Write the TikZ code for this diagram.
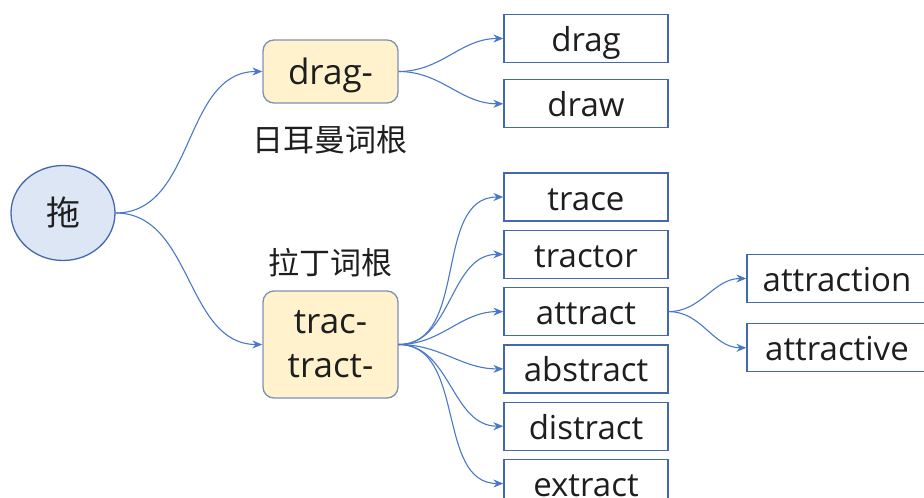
\documentclass[tikz,border=0pt]{standalone}
\usepackage{fontspec}
\setmainfont{Open Sans}
\newfontfamily\cjk{Noto Sans CJK SC}
\usetikzlibrary{shapes.geometric, arrows.meta, positioning}
\definecolor{tinta}{HTML}{1E1E1E}
\definecolor{borde}{HTML}{4468AE}
\definecolor{flecha}{HTML}{4A78C8}
\definecolor{celeste}{HTML}{DCE6F4}
\definecolor{crema}{HTML}{FFF2CC}
\definecolor{bordecrema}{HTML}{7D90B4}
\tikzset{
  raiz/.style={ellipse, draw=borde, fill=celeste, line width=1.3pt, minimum width=104pt,
               minimum height=95pt, inner sep=0pt, text=tinta, font=\cjk\fontsize{34}{38}\selectfont},
  prefijo/.style={rectangle, rounded corners=11pt, draw=bordecrema, fill=crema, line width=1.3pt,
                  minimum width=135pt, text=tinta, font=\fontsize{35}{44}\selectfont},
  palabra/.style={rectangle, draw=borde, fill=white, line width=1.3pt, minimum width=164pt,
                  minimum height=48pt, inner sep=0pt, text height=28pt, text depth=2pt,
                  text=tinta, font=\fontsize{33}{40}\selectfont},
  etiqueta/.style={text=tinta, inner sep=0pt, font=\cjk\fontsize{31}{36}\selectfont},
  arrow/.style={line width=1.1pt, color=flecha, -{Stealth[length=10pt,width=8pt]}}
}

\begin{document}
\begin{tikzpicture}[x=1pt, y=-1pt, node distance=8pt]
  \useasboundingbox (0,0) rectangle (924,498);
  % raiz y prefijos
  \node (tuo) [raiz] at (63,213) {拖};
  \node (drag-) [prefijo, minimum height=63pt, text height=29pt, text depth=3pt] at (330.5,71.5) {drag-};
  \node (ger) [etiqueta] at (330,140) {日耳曼词根};
  \node (trac) [prefijo, align=center, minimum height=107pt] at (330.5,344.5) {trac-\\tract-};
  \node (lat) [etiqueta] at (330,263) {拉丁词根};
  % palabras
  \node (drag) [palabra] at (586,38.5) {drag};
  \node (draw) [palabra, below=16pt of drag] {draw};
  \node (trace) [palabra] at (586,197) {trace};
  \node (tractor) [palabra, below=of trace] {tractor};
  \node (attract) [palabra, below=of tractor] {attract};
  \node (abstract) [palabra, below=of attract] {abstract};
  \node (distract) [palabra, below=of abstract] {distract};
  \node (extract) [palabra, below=of distract] {extract};
  \node (attraction) [palabra, minimum width=180pt] at (837,278.5) {attraction};
  \node (attractive) [palabra, minimum width=180pt, below=20pt of attraction] {attractive};
  % conectores
  \draw [arrow] (tuo.east) to[out=0, in=180] (drag-.west);
  \draw [arrow] (tuo.east) to[out=0, in=180] (trac.west);
  \draw [arrow] (drag-.east) to[out=0, in=180] (drag.west);
  \draw [arrow] (drag-.east) to[out=0, in=180] (draw.west);
  \draw [arrow] (trac.east) to[out=0, in=180] (trace.west);
  \draw [arrow] (trac.east) to[out=0, in=180] (tractor.west);
  \draw [arrow] (trac.east) to[out=0, in=180] (attract.west);
  \draw [arrow] (trac.east) to[out=0, in=180] (abstract.west);
  \draw [arrow] (trac.east) to[out=0, in=180] (distract.west);
  \draw [arrow] (trac.east) to[out=0, in=180] (extract.west);
  \draw [arrow] (attract.east) to[out=0, in=180] (attraction.west);
  \draw [arrow] (attract.east) to[out=0, in=180] (attractive.west);
\end{tikzpicture}
\end{document}
